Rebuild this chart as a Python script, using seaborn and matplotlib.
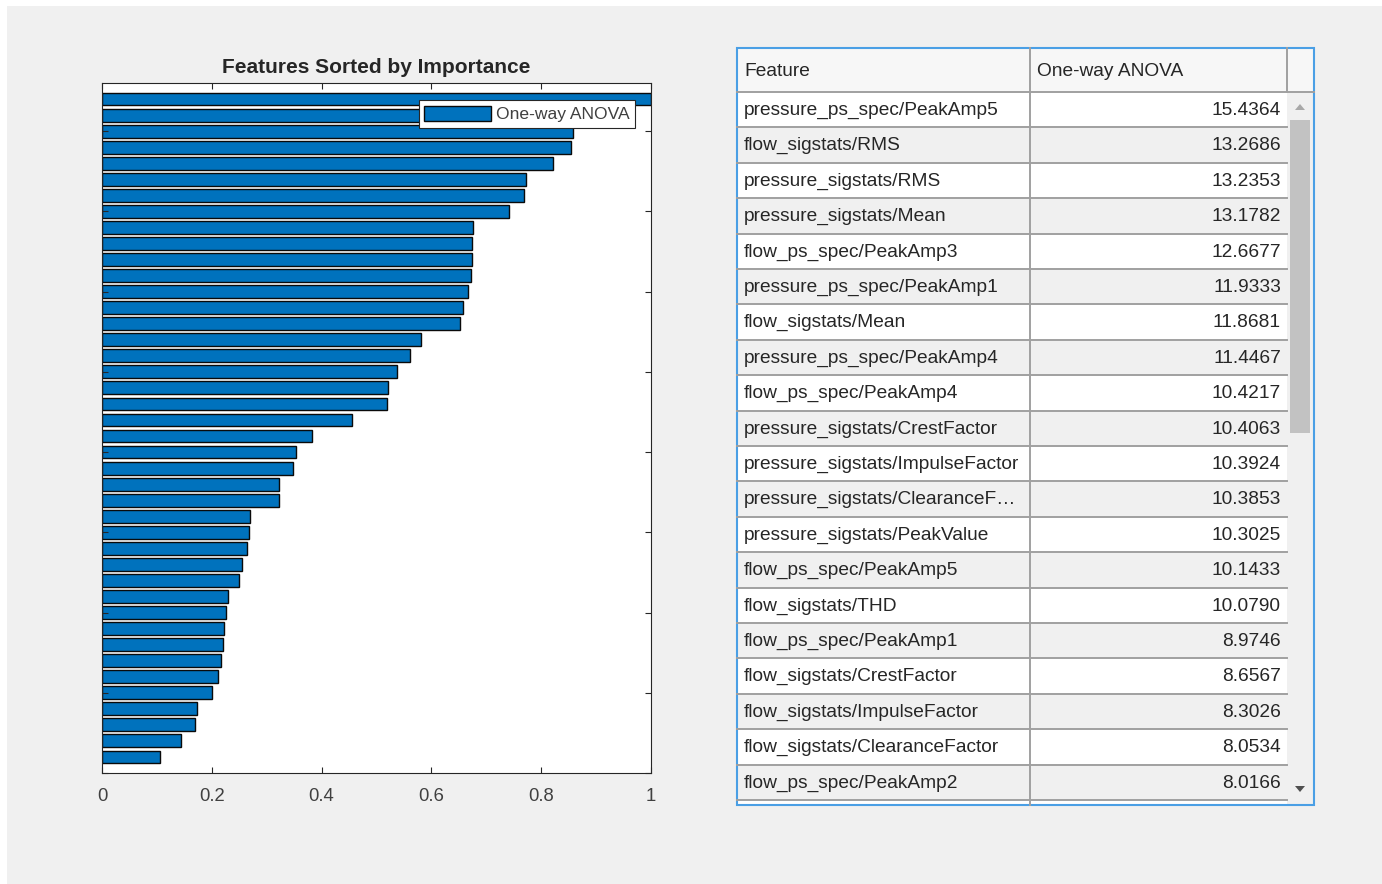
import numpy as np
import pandas as pd
import seaborn as sns
import matplotlib.pyplot as plt
from matplotlib.patches import Rectangle, Polygon

# feature ranking shown in the table (top 20 rows visible)
features = [
    "pressure_ps_spec/PeakAmp5", "flow_sigstats/RMS", "pressure_sigstats/RMS",
    "pressure_sigstats/Mean", "flow_ps_spec/PeakAmp3", "pressure_ps_spec/PeakAmp1",
    "flow_sigstats/Mean", "pressure_ps_spec/PeakAmp4", "flow_ps_spec/PeakAmp4",
    "pressure_sigstats/CrestFactor", "pressure_sigstats/ImpulseFactor",
    "pressure_sigstats/ClearanceFactor", "pressure_sigstats/PeakValue",
    "flow_ps_spec/PeakAmp5", "flow_sigstats/THD", "flow_ps_spec/PeakAmp1",
    "flow_sigstats/CrestFactor", "flow_sigstats/ImpulseFactor",
    "flow_sigstats/ClearanceFactor", "flow_ps_spec/PeakAmp2",
]
anova = [15.4364, 13.2686, 13.2353, 13.1782, 12.6677, 11.9333, 11.8681, 11.4467,
         10.4217, 10.4063, 10.3924, 10.3853, 10.3025, 10.1433, 10.0790, 8.9746,
         8.6567, 8.3026, 8.0534, 8.0166]

# normalized importance of all 42 features (bar lengths, top to bottom)
importance = [1.0, 0.8596, 0.8574, 0.8537, 0.8206, 0.7731, 0.7689, 0.7416,
              0.6751, 0.6741, 0.6733, 0.6728, 0.6674, 0.6571, 0.6530, 0.5814,
              0.5608, 0.5379, 0.5217, 0.5193, 0.455, 0.382, 0.3535, 0.347,
              0.323, 0.322, 0.270, 0.267, 0.264, 0.255, 0.249, 0.2286,
              0.2266, 0.223, 0.2206, 0.217, 0.2106, 0.200, 0.173, 0.170,
              0.1435, 0.1056]

plt.rcParams['font.family'] = ['Liberation Sans', 'DejaVu Sans']

W, H = 1382, 884
fig = plt.figure(figsize=(W / 100, H / 100), dpi=100, facecolor='white')
fig.patches.append(Rectangle((7 / W, 0), 1, (H - 6) / H, transform=fig.transFigure,
                             facecolor='#F0F0F0', edgecolor='none', zorder=-10))

# overlay in pixel coords for the table widget
tab = fig.add_axes([0, 0, 1, 1], zorder=0)
tab.set_xlim(0, W)
tab.set_ylim(H, 0)
tab.axis('off')

# ---- bar chart
ax = fig.add_axes([102 / W, (H - 773) / H, 549 / W, 690 / H], zorder=1)
n = len(importance)
df = pd.DataFrame({"score": importance, "pos": np.arange(n, 0, -1)})
sns.barplot(data=df, x="score", y="pos", orient='h', native_scale=True,
            color='#0072BD', saturation=1, edgecolor='#0a0a0a', linewidth=1.0,
            width=0.8, label='One-way ANOVA', ax=ax)
ax.set_facecolor('white')
ax.set_xlim(0, 1)
ax.set_ylim(0, n + 1)
ax.set_xlabel('')
ax.set_ylabel('')
ax.set_xticks(np.arange(0, 1.01, 0.2))
ax.set_xticklabels([f'{t:g}' for t in np.arange(0, 1.01, 0.2)])
ax.set_yticks(range(0, n + 1, 5))
ax.set_yticklabels([])
ax.tick_params(direction='in', top=True, right=True, length=4, width=0.8,
               color='#262626', labelsize=13.3, labelcolor='#404040', pad=11)
for s in ax.spines.values():
    s.set_color('#262626')
    s.set_linewidth(0.8)
ax.set_title('Features Sorted by Importance', fontsize=15, fontweight='bold',
             color='#262626', pad=7)
leg = ax.legend(loc='upper right', bbox_to_anchor=(0.971, 0.975), borderaxespad=0,
                fontsize=12.6, handlelength=3.8, handleheight=1.0, handletextpad=0.3,
                borderpad=0.3, fancybox=False, framealpha=1, edgecolor='#262626')
leg.get_frame().set_linewidth(0.8)
for t in leg.get_texts():
    t.set_color('#404040')

# ---- table
L, R, C, S = 737, 1314, 1030, 1287
top, hb, bot = 48, 92, 805
row_h = 35.4
fs = 13.8
tab.add_patch(Rectangle((L, hb), S - L, bot - hb, facecolor='white', edgecolor='none'))
for i in range(len(features) + 1):
    y0 = hb + i * row_h
    h = min(row_h, bot - y0)
    if i % 2 == 1:
        tab.add_patch(Rectangle((L, y0), S - L, h, facecolor='#F0F0F0', edgecolor='none'))
for i in range(len(features)):
    yb = hb + (i + 1) * row_h
    tab.plot([L, S], [yb, yb], color='#A0A0A0', lw=1.4)
tab.add_patch(Rectangle((L, top), R - L, hb - top, facecolor='#F7F7F7', edgecolor='none'))
tab.plot([L, R], [hb, hb], color='#A0A0A0', lw=1.4)
tab.plot([C, C], [top, bot], color='#A0A0A0', lw=1.4)
tab.plot([S, S], [top, hb], color='#A0A0A0', lw=1.4)
# scrollbar
tab.add_patch(Rectangle((S, hb + 0.7), R - S, bot - hb, facecolor='#F0F0F0', edgecolor='none'))
tab.add_patch(Rectangle((1290, 120), 20, 313, facecolor='#C2C2C2', edgecolor='none'))
tab.add_patch(Polygon([[1295, 110], [1305, 110], [1300, 104]], closed=True,
                      facecolor='#A8A8A8', edgecolor='none'))
tab.add_patch(Polygon([[1295, 786], [1305, 786], [1300, 792]], closed=True,
                      facecolor='#505050', edgecolor='none'))
tab.add_patch(Rectangle((L, top), R - L, bot - top, facecolor='none',
                        edgecolor='#4A9FE5', lw=1.5))

tab.text(744, (top + hb) / 2 + 2, 'Feature', fontsize=fs, color='#262626', va='center')
tab.text(1037, (top + hb) / 2 + 2, 'One-way ANOVA', fontsize=fs, color='#262626', va='center')
for i, (name, val) in enumerate(zip(features, anova)):
    yc = hb + (i + 0.5) * row_h + 0.8
    label = name if len(name) <= 31 else name[:28] + '\u2026'
    tab.text(744, yc, label, fontsize=fs, color='#262626', va='center')
    tab.text(1281, yc, f'{val:.4f}', fontsize=fs, color='#262626', va='center', ha='right')

fig.savefig('out.png', dpi=100, facecolor=fig.get_facecolor())
